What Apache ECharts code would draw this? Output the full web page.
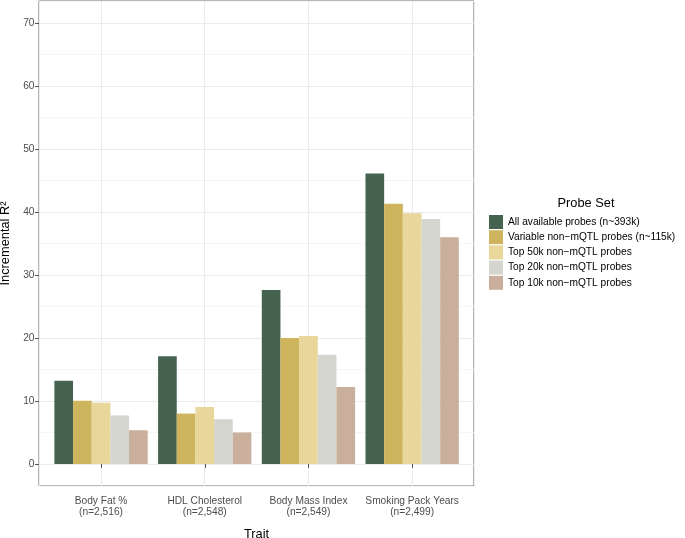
<!DOCTYPE html>
<html>
<head>
<meta charset="utf-8">
<script src="https://cdn.jsdelivr.net/npm/echarts@6/dist/echarts.min.js"></script>
<style>
html,body{margin:0;padding:0;background:#fff;}
#chart{width:685px;height:538px;}
</style>
</head>
<body>
<div id="chart"></div>
<script>
const categories = ['Body Fat %\n(n=2,516)', 'HDL Cholesterol\n(n=2,548)', 'Body Mass Index\n(n=2,549)', 'Smoking Pack Years\n(n=2,499)'];
const seriesNames = ['All available probes (n~393k)', 'Variable non\u2212mQTL probes (n~115k)', 'Top 50k non\u2212mQTL probes', 'Top 20k non\u2212mQTL probes', 'Top 10k non\u2212mQTL probes'];
const allProbes = [13.2, 17.1, 27.6, 46.1];
const variableProbes = [10.05, 8.0, 20.0, 41.3];
const top50k = [9.7, 9.05, 20.3, 39.8];
const top20k = [7.7, 7.1, 17.35, 38.9];
const top10k = [5.35, 5.0, 12.2, 36.0];
const yTicks = [0, 10, 20, 30, 40, 50, 60, 70];
const colors = ['#46634f', '#cdb45d', '#e8d69b', '#d3d5ce', '#c9af9c'];

const seriesValues = [allProbes, variableProbes, top50k, top20k, top10k];
const FONT = 'Liberation Sans, Arial, sans-serif';
const YMIN = -3.5, YMAX = 73.5;

const chart = echarts.init(document.getElementById('chart'), null, {renderer: 'canvas'});
chart.setOption({
  animation: false,
  textStyle: {fontFamily: FONT},
  title: {
    text: 'Probe Set', padding: 0,
    left: 586, top: 203, textAlign: 'center', textVerticalAlign: 'middle',
    textStyle: {fontSize: 12.8, fontWeight: 'normal', color: '#000', fontFamily: FONT}
  },
  legend: {
    orient: 'vertical', left: 489, top: 215, padding: 0,
    itemWidth: 14, itemHeight: 14, itemGap: 1.2,
    icon: 'rect',
    textStyle: {fontSize: 10.2, color: '#000', fontFamily: FONT},
    data: seriesNames
  },
  grid: [
    {left: 39, top: 1, width: 435, height: 485, show: true, borderColor: '#6e6e6e', borderWidth: 1, backgroundColor: '#fff', containLabel: false, outerBoundsMode: 'none'},
    {left: 49.2, top: 1, width: 414.8, height: 485, containLabel: false, outerBoundsMode: 'none'}
  ],
  xAxis: [
    {
      gridIndex: 0, type: 'value', min: 0.4, max: 4.6, splitNumber: 4, minInterval: 1, maxInterval: 1,
      axisLine: {show: false}, axisTick: {show: false}, axisLabel: {show: false},
      splitLine: {show: true, lineStyle: {color: '#ebebeb', width: 1}},
      name: 'Trait', nameLocation: 'middle', nameGap: 42,
      nameTextStyle: {fontSize: 12.8, color: '#000', fontFamily: FONT}
    },
    {
      gridIndex: 1, type: 'category', data: categories,
      axisLine: {show: false},
      axisTick: {show: true, alignWithLabel: true, length: 4, lineStyle: {color: '#555'}},
      axisLabel: {interval: 0, fontSize: 10.2, color: '#4d4d4d', margin: 9.5, lineHeight: 11.3, fontFamily: FONT},
      splitLine: {show: false}
    }
  ],
  yAxis: [
    {
      gridIndex: 0, type: 'value', position: 'left', min: YMIN, max: YMAX, splitNumber: 15, minInterval: 5, maxInterval: 5,
      axisLine: {show: false}, axisTick: {show: false}, axisLabel: {show: false},
      splitLine: {show: true, lineStyle: {color: ['#f5f5f5', '#ebebeb'], width: 1}}
    },
    {
      gridIndex: 0, type: 'value', position: 'left', min: YMIN, max: YMAX, splitNumber: 8, minInterval: 10, maxInterval: 10,
      axisLine: {show: false},
      axisTick: {show: true, length: 4, customValues: yTicks, lineStyle: {color: '#555'}},
      axisLabel: {show: true, customValues: yTicks, fontSize: 10.2, color: '#4d4d4d', margin: 4.5, fontFamily: FONT,
        formatter: v => (Math.abs(v % 10) < 1e-9 ? String(v) : '')},
      splitLine: {show: false},
      name: 'Incremental R\u00b2', nameLocation: 'middle', nameGap: 25, nameRotate: 90,
      nameTextStyle: {fontSize: 12.8, color: '#000', fontFamily: FONT}
    },
    {
      gridIndex: 1, type: 'value', position: 'left', min: YMIN, max: YMAX, show: false,
      splitLine: {show: false}
    }
  ],
  series: seriesNames.map((name, i) => ({
    name: name,
    type: 'bar',
    xAxisIndex: 1, yAxisIndex: 2,
    data: seriesValues[i],
    barGap: '0%', barCategoryGap: '10%',
    itemStyle: {color: colors[i]},
    emphasis: {disabled: true}
  })),
  color: colors
});
</script>
</body>
</html>
